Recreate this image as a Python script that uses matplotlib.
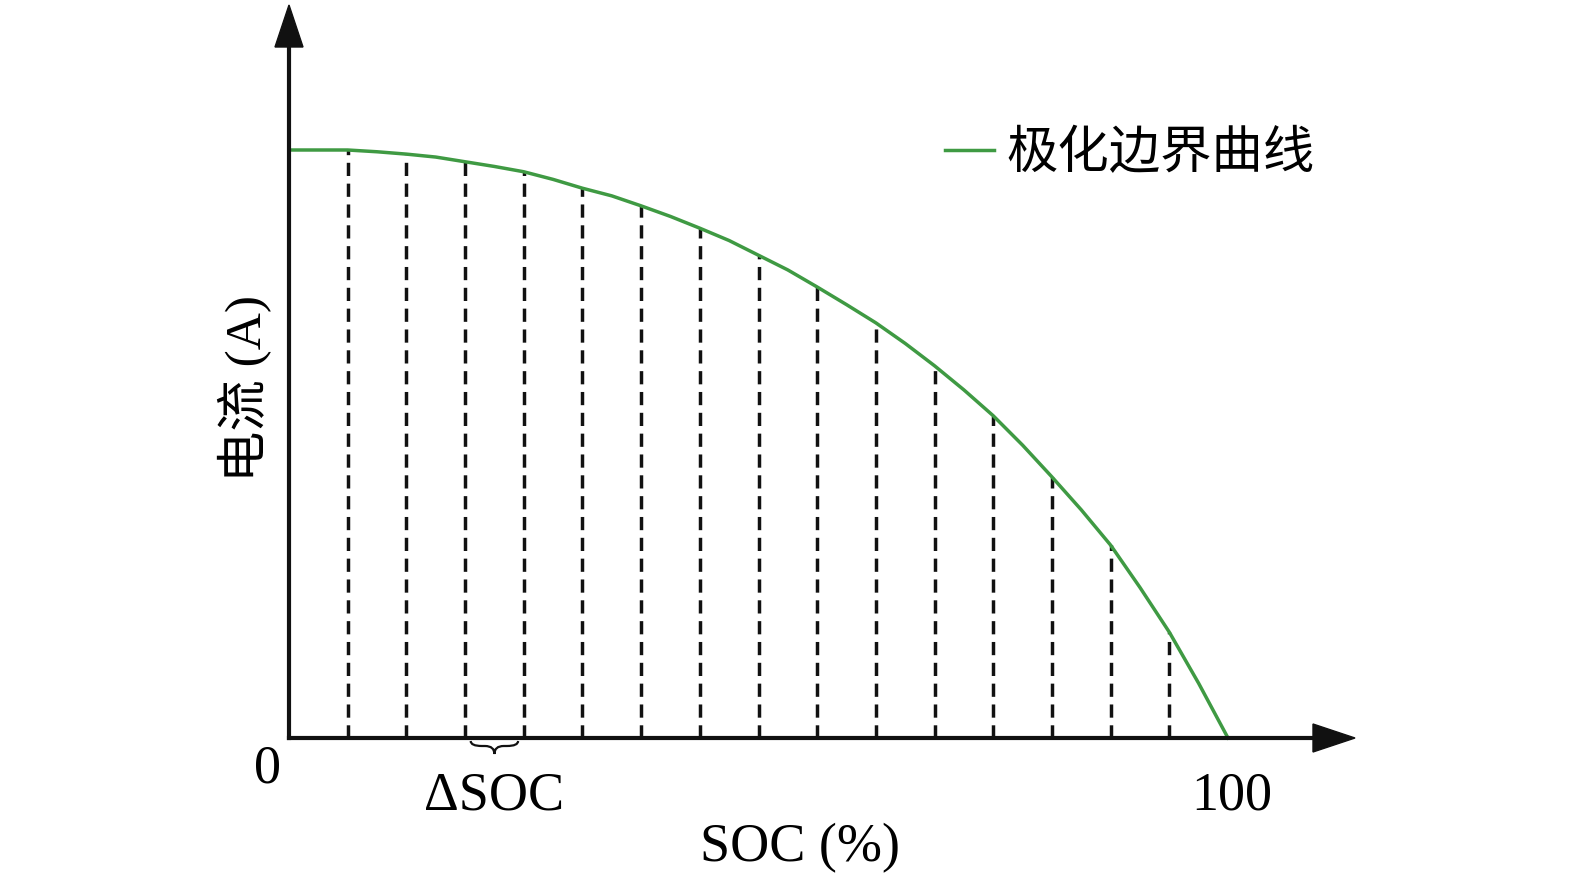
import matplotlib
matplotlib.use('Agg')
import matplotlib.pyplot as plt
from matplotlib.path import Path
from matplotlib.patches import PathPatch

plt.rcParams['font.family'] = ['Liberation Serif', 'Noto Sans CJK SC']

# SOC (%) and polarization boundary current (relative units)
# every second point is one of the dashed ΔSOC grid lines
soc = [0, 3.125, 6.25, 9.375, 12.5, 15.625, 18.75, 21.875, 25, 28.125,
       31.25, 34.375, 37.5, 40.625, 43.75, 46.875, 50, 53.125, 56.25, 59.375,
       62.5, 65.625, 68.75, 71.875, 75, 78.125, 81.25, 84.375, 87.5, 90.625,
       93.75, 96.875, 100]
current = [100, 100, 100, 99.7, 99.3, 98.8, 98.0, 97.2, 96.3, 95.0,
           93.5, 92.2, 90.5, 88.7, 86.7, 84.6, 82.1, 79.6, 76.7, 73.7,
           70.6, 67.1, 63.3, 59.2, 54.8, 49.8, 44.4, 38.8, 32.8, 25.6,
           18.0, 9.3, 0]

legend_label = '极化边界曲线'
x_label = 'SOC (%)'
y_label = '电流 (A)'
delta_label = 'ΔSOC'

W, H = 1575, 882
fig = plt.figure(figsize=(W / 100, H / 100), dpi=100)
# axes box: x 0..100 -> px 289..1228, y 0..100 -> px 738..150
x0, x1, yb, yt = 289, 1228, 738, 150
ax = fig.add_axes([x0 / W, 1 - yb / H, (x1 - x0) / W, (yb - yt) / H])
ax.set_xlim(0, 100)
ax.set_ylim(0, 100)
ax.axis('off')

px_x = 100 / (x1 - x0)   # data units per pixel
px_y = 100 / (yb - yt)

green = '#3f9a43'

# dashed verticals under the curve
grid_x = soc[2:-1:2]
grid_y = current[2:-1:2]
ax.vlines(grid_x, 0, grid_y, colors='#111111', linewidth=2.5,
          linestyles=(0, (3.8, 2.2)), zorder=2)

line, = ax.plot(soc, current, color=green, linewidth=2.5, zorder=3,
                clip_on=False, label=legend_label)

# axes with arrow heads
x_end = (1355 - x0) * px_x
y_end = (yb - 5) * px_y
head_l, head_w = 42, 14
ax.plot([0, x_end - head_l * px_x], [0, 0], color='#111111', lw=3, clip_on=False, zorder=4)
ax.plot([0, 0], [0, y_end - head_l * px_y], color='#111111', lw=3, clip_on=False, zorder=4)
ax.fill([x_end, x_end - head_l * px_x, x_end - head_l * px_x],
        [0, head_w * px_y, -head_w * px_y], color='#111111', clip_on=False, zorder=4)
ax.fill([0, head_w * px_x, -head_w * px_x],
        [y_end, y_end - head_l * px_y, y_end - head_l * px_y], color='#111111',
        clip_on=False, zorder=4)

# curly brace under one SOC step
bl, br = grid_x[2] + 0.6, grid_x[3] - 0.6
bm = (bl + br) / 2
top, mid, tip = -3 * px_y, -8 * px_y, -16 * px_y
verts = [(bl, top), (bl, mid), (bl + 1.2, mid), (bm - 1.0, mid), (bm, mid), (bm, tip),
         (bm, mid), (bm + 1.0, mid), (br - 1.2, mid), (br, mid), (br, top)]
codes = [Path.MOVETO, Path.CURVE3, Path.CURVE3, Path.LINETO, Path.CURVE3, Path.CURVE3,
         Path.CURVE3, Path.CURVE3, Path.LINETO, Path.CURVE3, Path.CURVE3]
ax.add_patch(PathPatch(Path(verts, codes), facecolor='none', edgecolor='#111111',
                       lw=1.6, clip_on=False))

fs = 39
ax.annotate('0', xy=(0, 0), xytext=(-21, -31), textcoords='offset pixels',
            ha='center', va='center', fontsize=fs)
ax.annotate(delta_label, xy=((grid_x[2] + grid_x[3]) / 2, 0), xytext=(0, -58),
            textcoords='offset pixels', ha='center', va='center', fontsize=fs)
ax.annotate('100', xy=(100, 0), xytext=(4, -58), textcoords='offset pixels',
            ha='center', va='center', fontsize=fs)
fig.text(800 / W, 1 - 848 / H, x_label, ha='center', va='center', fontsize=fs)
fig.text(245 / W, 1 - 388 / H, y_label, ha='center', va='center', fontsize=37,
         rotation=90)

ax.legend(handles=[line], loc='center left', bbox_to_anchor=(945 / W, 1 - 155 / H),
          bbox_transform=fig.transFigure, frameon=False, fontsize=37,
          handlelength=0.95, handletextpad=0.25, borderpad=0, borderaxespad=0)

fig.savefig('out.png', dpi=100)
